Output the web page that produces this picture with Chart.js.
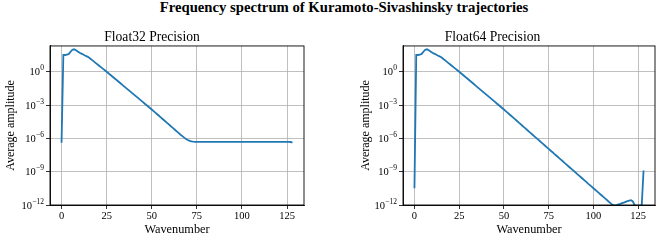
<!DOCTYPE html>
<html>
<head>
<meta charset="utf-8">
<script src="https://cdn.jsdelivr.net/npm/chart.js@4.4.1/dist/chart.umd.min.js"></script>
<style>
  html, body { margin: 0; padding: 0; background: #fff; }
  #wrap { position: relative; width: 664px; height: 241px; overflow: hidden; }
  #sup { position: absolute; left: 0; width: 688px; top: -1px; text-align: center;
         font: bold 14.7px "Liberation Serif", serif; color: #000; line-height: 16px; }
  canvas { position: absolute; }
  #c1 { left: 0; top: 30px; }
  #c2 { left: 330px; top: 30px; }
</style>
</head>
<body>
<div id="wrap">
  <div id="sup">Frequency spectrum of Kuramoto-Sivashinsky trajectories</div>
  <canvas id="c1" width="320" height="211"></canvas>
  <canvas id="c2" width="334" height="211"></canvas>
</div>
<script>
const suptitle = 'Frequency spectrum of Kuramoto-Sivashinsky trajectories';
const panelTitles = ['Float32 Precision', 'Float64 Precision'];
const xLabel = 'Wavenumber';
const yLabel = 'Average amplitude';

const wavenumbers = [
  0,1,2,3,4,5,6,7,8,9,
  10,11,12,13,14,15,16,17,18,19,
  20,21,22,23,24,25,26,27,28,29,
  30,31,32,33,34,35,36,37,38,39,
  40,41,42,43,44,45,46,47,48,49,
  50,51,52,53,54,55,56,57,58,59,
  60,61,62,63,64,65,66,67,68,69,
  70,71,72,73,74,75,76,77,78,79,
  80,81,82,83,84,85,86,87,88,89,
  90,91,92,93,94,95,96,97,98,99,
  100,101,102,103,104,105,106,107,108,109,
  110,111,112,113,114,115,116,117,118,119,
  120,121,122,123,124,125,126,127,128
];

const float32Amplitude = [
  4.0e-7, 32, 32, 34, 40, 63, 95, 105, 85, 66,
  51, 43, 35.5, 28.8, 24, 20, 14.8, 11, 8.1, 6.0,
  4.47, 3.31, 2.45, 1.82, 1.35, 1.0, 0.731, 0.535, 0.391, 0.286,
  0.209, 0.153, 0.112, 0.0817, 0.0597, 0.0437, 0.0319, 0.0233, 0.0171, 0.0125,
  0.00912, 0.00667, 0.00488, 0.00356, 0.00261, 0.00191, 0.00139, 0.00102, 7.45e-4, 5.45e-4,
  3.98e-4, 2.87e-4, 2.07e-4, 1.49e-4, 1.08e-4, 7.76e-5, 5.60e-5, 4.04e-5, 2.91e-5, 2.10e-5,
  1.51e-5, 1.09e-5, 7.87e-6, 5.68e-6, 4.09e-6, 2.95e-6, 2.13e-6, 1.58e-6, 1.17e-6, 8.9e-7,
  7.1e-7, 5.9e-7, 5.25e-7, 5.0e-7, 4.9e-7, 4.9e-7, 4.9e-7, 4.9e-7, 4.9e-7, 4.9e-7,
  4.9e-7, 4.9e-7, 4.9e-7, 4.9e-7, 4.9e-7, 4.9e-7, 4.9e-7, 4.9e-7, 4.9e-7, 4.9e-7,
  4.9e-7, 4.9e-7, 4.9e-7, 4.9e-7, 4.9e-7, 4.9e-7, 4.9e-7, 4.9e-7, 4.9e-7, 4.9e-7,
  4.9e-7, 4.9e-7, 4.9e-7, 4.9e-7, 4.9e-7, 4.9e-7, 4.9e-7, 4.9e-7, 4.9e-7, 4.9e-7,
  4.9e-7, 4.9e-7, 4.9e-7, 4.9e-7, 4.9e-7, 4.9e-7, 4.9e-7, 4.9e-7, 4.9e-7, 4.9e-7,
  4.9e-7, 4.9e-7, 4.9e-7, 4.9e-7, 4.8e-7, 4.8e-7, 4.8e-7, 4.7e-7, 4.2e-7
];

const float64Amplitude = [
  3.2e-11, 32, 32, 34, 40, 63, 95, 105, 85, 66,
  51, 43, 35.5, 28.8, 24, 20, 14.8, 11, 8.1, 6.0,
  4.47, 3.31, 2.45, 1.82, 1.35, 1.0, 0.731, 0.535, 0.391, 0.286,
  0.209, 0.153, 0.112, 0.0817, 0.0597, 0.0437, 0.0319, 0.0233, 0.0171, 0.0125,
  0.00912, 0.00667, 0.00488, 0.00356, 0.00261, 0.00191, 0.00139, 0.00102, 7.45e-4, 5.45e-4,
  3.98e-4, 2.87e-4, 2.07e-4, 1.49e-4, 1.08e-4, 7.76e-5, 5.60e-5, 4.04e-5, 2.91e-5, 2.10e-5,
  1.51e-5, 1.09e-5, 7.87e-6, 5.68e-6, 4.09e-6, 2.95e-6, 2.13e-6, 1.53e-6, 1.11e-6, 7.98e-7,
  5.75e-7, 4.15e-7, 2.99e-7, 2.16e-7, 1.56e-7, 1.12e-7, 8.13e-8, 5.89e-8, 4.17e-8, 3.02e-8,
  2.19e-8, 1.58e-8, 1.15e-8, 8.32e-9, 5.89e-9, 4.27e-9, 3.09e-9, 2.24e-9, 1.62e-9, 1.17e-9,
  8.51e-10, 6.03e-10, 4.37e-10, 3.16e-10, 2.29e-10, 1.66e-10, 1.20e-10, 8.51e-11, 6.17e-11, 4.47e-11,
  3.24e-11, 2.34e-11, 1.70e-11, 1.23e-11, 8.91e-12, 6.46e-12, 4.68e-12, 3.39e-12, 2.40e-12, 1.74e-12,
  1.26e-12, 9.5e-13, 8.7e-13, 1.0e-12, 1.12e-12, 1.26e-12, 1.45e-12, 1.66e-12, 1.91e-12, 2.19e-12,
  2.51e-12, 2.75e-12, 2.09e-12, 9.5e-13, 8.9e-13, 8.9e-13, 8.9e-13, 1.0e-12, 1.26e-9
];

const xTickValues = [0, 25, 50, 75, 100, 125];
const xTickLabels = ['0', '25', '50', '75', '100', '125'];
const yTickValues = [1e-12, 1e-9, 1e-6, 1e-3, 1];
const yTickBase = '10';
const yTickExponents = ['\u221212', '\u22129', '\u22126', '\u22123', '0'];

const FONT = '"Liberation Serif", "DejaVu Serif", serif';
const LINE_COLOR = '#1f77b4';

const frame = {
  id: 'frame',
  afterDatasetsDraw(chart) {
    const a = chart.chartArea, ctx = chart.ctx;
    ctx.save();
    ctx.strokeStyle = '#000';
    ctx.lineWidth = 0.9;
    ctx.strokeRect(a.left, a.top, a.right - a.left, a.bottom - a.top);
    ctx.restore();
  }
};

// y tick labels as 10 with raised exponent
const powerLabels = {
  id: 'powerLabels',
  afterDraw(chart) {
    const ctx = chart.ctx, y = chart.scales.y, a = chart.chartArea;
    ctx.save();
    ctx.fillStyle = '#000';
    ctx.textBaseline = 'alphabetic';
    ctx.textAlign = 'left';
    yTickValues.forEach((v, i) => {
      const py = y.getPixelForValue(v);
      const right = a.left - 6;
      ctx.font = '7.5px ' + FONT;
      const ew = ctx.measureText(yTickExponents[i]).width;
      ctx.font = '10.5px ' + FONT;
      const bw = ctx.measureText(yTickBase).width;
      const x0 = right - ew - bw - 0.3;
      ctx.fillText(yTickBase, x0, py + 3.5);
      ctx.font = '7.5px ' + FONT;
      ctx.fillText(yTickExponents[i], x0 + bw + 0.3, py - 1.3);
    });
    ctx.restore();
  }
};

function makeChart(canvasId, title, values, yAxisWidth, yTitlePad, rightPad) {
  return new Chart(document.getElementById(canvasId), {
    type: 'line',
    data: {
      labels: wavenumbers,
      datasets: [{
        data: values,
        borderColor: LINE_COLOR,
        borderWidth: 1.8,
        pointRadius: 0,
        tension: 0,
        fill: false
      }]
    },
    options: {
      responsive: false,
      animation: false,
      devicePixelRatio: 1,
      layout: { padding: { left: 0, right: rightPad, top: 0, bottom: 0 } },
      plugins: {
        legend: { display: false },
        tooltip: { enabled: false },
        title: {
          display: true,
          text: title,
          color: '#000',
          font: { family: FONT, size: 13.6, weight: 'normal', lineHeight: 1.1 },
          padding: { top: 0, bottom: 1 }
        }
      },
      scales: {
        x: {
          type: 'linear',
          min: -6.4,
          max: 134.4,
          afterBuildTicks(s) { s.ticks = xTickValues.map(v => ({ value: v })); },
          afterFit(s) { s.height = 36; },
          ticks: {
            color: '#000',
            font: { family: FONT, size: 10.5 },
            padding: 1,
            maxRotation: 0,
            autoSkip: false,
            callback(v) { const i = xTickValues.indexOf(v); return i >= 0 ? xTickLabels[i] : ''; }
          },
          grid: { color: '#b0b0b0', lineWidth: 0.8, tickColor: '#000', tickLength: 4, tickWidth: 0.8 },
          border: { color: '#000', width: 0.9 },
          title: {
            display: true, text: xLabel, color: '#000',
            font: { family: FONT, size: 12.3 },
            padding: { top: 0, bottom: 4 }
          }
        },
        y: {
          type: 'logarithmic',
          min: 1e-12,
          max: 209,
          afterBuildTicks(s) { s.ticks = yTickValues.map(v => ({ value: v })); },
          afterFit(s) { s.width = yAxisWidth; },
          ticks: {
            color: 'rgba(0,0,0,0)',
            font: { family: FONT, size: 10.5 },
            padding: 2,
            autoSkip: false,
            callback(v) {
              const i = yTickValues.findIndex(t => Math.abs(Math.log10(t) - Math.log10(v)) < 1e-6);
              return i >= 0 ? yTickBase + '^' + yTickExponents[i] : '';
            }
          },
          grid: { color: '#b0b0b0', lineWidth: 0.8, tickColor: '#000', tickLength: 4, tickWidth: 0.8 },
          border: { color: '#000', width: 0.9 },
          title: {
            display: true, text: yLabel, color: '#000',
            font: { family: FONT, size: 12 },
            padding: { top: yTitlePad, bottom: 0 }
          }
        }
      }
    },
    plugins: [frame, powerLabels]
  });
}

makeChart('c1', panelTitles[0], float32Amplitude, 50, 4, 16);
makeChart('c2', panelTitles[1], float64Amplitude, 73, 29, 9);
</script>
</body>
</html>
